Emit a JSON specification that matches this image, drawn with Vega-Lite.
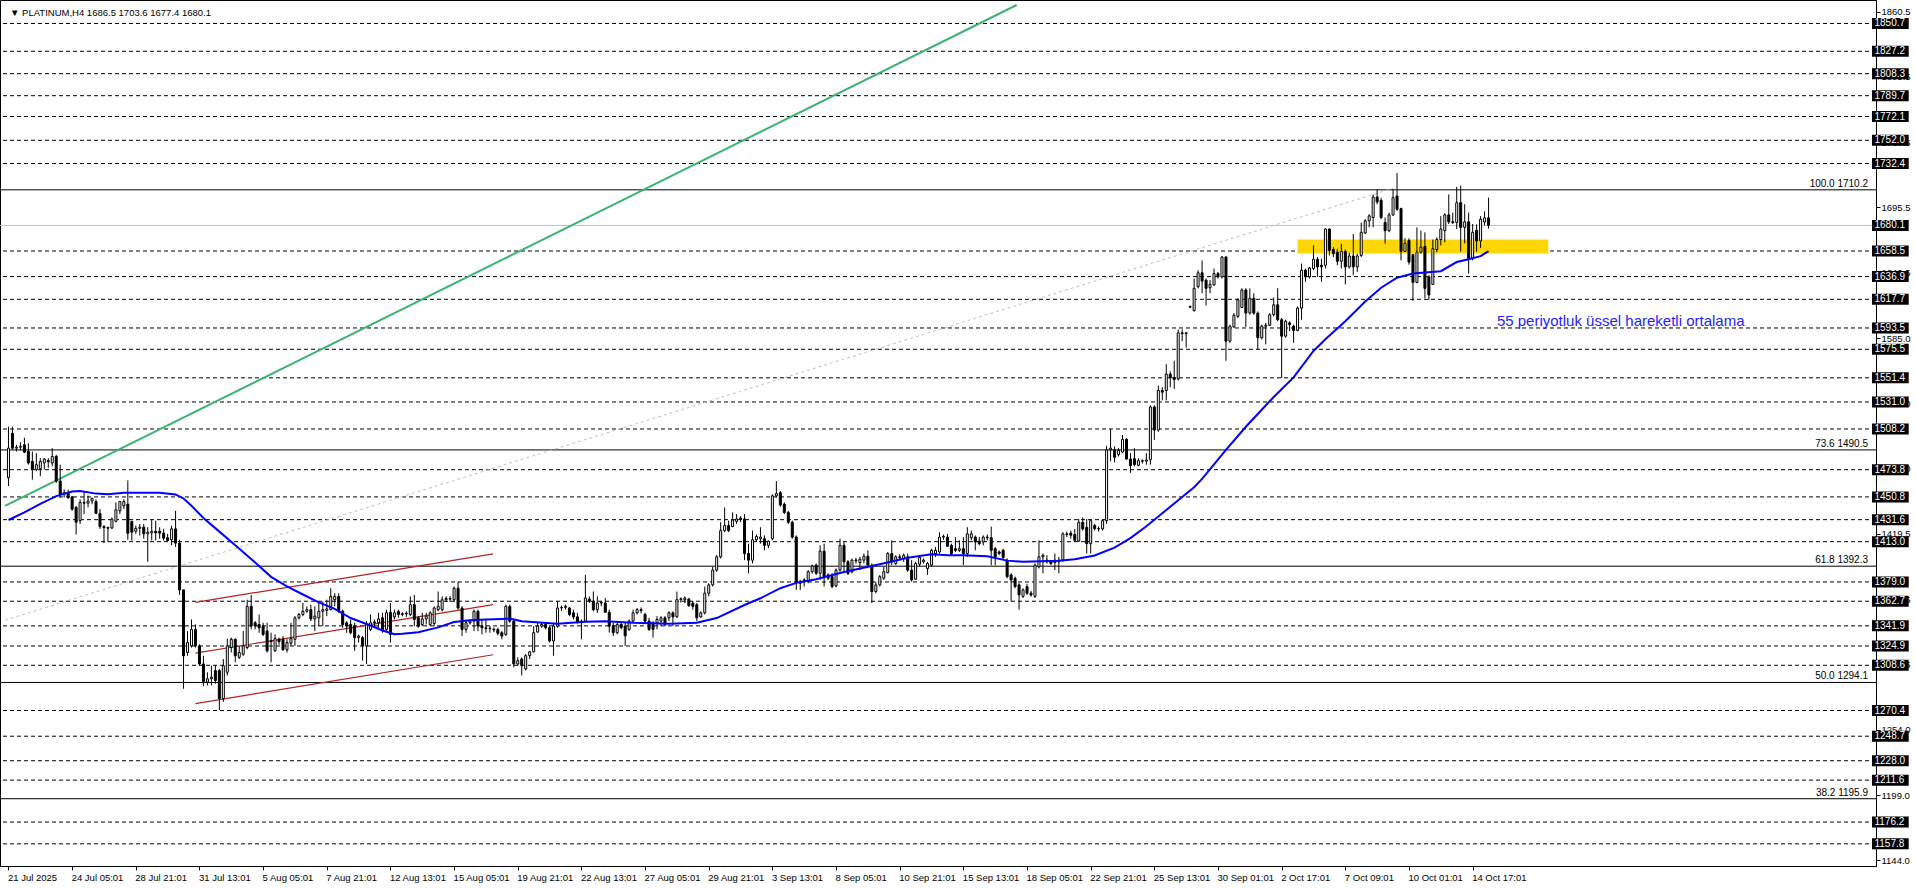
{
"$schema":"https://vega.github.io/schema/vega-lite/v6.json",
"width":1876,"height":866,
"autosize":{"type":"none"},
"padding":{"left":0,"top":0,"right":40,"bottom":22},
"background":"white",
"view":{"stroke":"black","strokeWidth":1},
"datasets":{
"bars":[
{"j":0,"o":1467,"h":1510.1,"l":1460,"c":1492},{"j":1,"o":1504.5,"h":1510.1,"l":1490.6,"c":1492},{"j":2,"o":1492,"h":1494.8,"l":1489.2,"c":1492.8},{"j":3,"o":1492.8,"h":1497,"l":1490,"c":1493.5},{"j":4,"o":1494.8,"h":1500.9,"l":1487.8,"c":1488.6},{"j":5,"o":1489.2,"h":1496.1,"l":1478.1,"c":1479.5},{"j":6,"o":1480.8,"h":1489.2,"l":1465.5,"c":1473.9},{"j":7,"o":1474,"h":1487.8,"l":1472.5,"c":1478},{"j":8,"o":1474.7,"h":1483.6,"l":1468.3,"c":1480.8},{"j":9,"o":1479.5,"h":1483.6,"l":1473.9,"c":1482.8},
{"j":10,"o":1481.5,"h":1483.6,"l":1475.3,"c":1480.5},{"j":11,"o":1479.5,"h":1492,"l":1476.7,"c":1485},{"j":12,"o":1485,"h":1486.4,"l":1462.8,"c":1464.2},{"j":13,"o":1464.2,"h":1478.1,"l":1450.3,"c":1453},{"j":14,"o":1453,"h":1457.2,"l":1450.3,"c":1454.4},{"j":15,"o":1454.4,"h":1457,"l":1449,"c":1450.3},{"j":16,"o":1450.8,"h":1451.6,"l":1439.1,"c":1440.5},{"j":17,"o":1441.9,"h":1443.3,"l":1419.1,"c":1429.4},{"j":18,"o":1430.7,"h":1448.8,"l":1428,"c":1446.1},{"j":19,"o":1446.1,"h":1455.8,"l":1436.3,"c":1445.5},
{"j":20,"o":1445.5,"h":1452,"l":1442,"c":1447.4},{"j":21,"o":1447.4,"h":1450.3,"l":1444.7,"c":1449.5},{"j":22,"o":1446.9,"h":1448.8,"l":1436.3,"c":1436.9},{"j":23,"o":1436.9,"h":1440.5,"l":1423.8,"c":1425.7},{"j":24,"o":1425.7,"h":1427,"l":1411.8,"c":1424.8},{"j":25,"o":1424.3,"h":1425.2,"l":1412.7,"c":1425.2},{"j":26,"o":1424.6,"h":1433.5,"l":1423.8,"c":1432.1},{"j":27,"o":1430.2,"h":1446.1,"l":1429.4,"c":1439.9},{"j":28,"o":1439.1,"h":1447.4,"l":1436.3,"c":1446.9},{"j":29,"o":1443.3,"h":1448.8,"l":1440.5,"c":1446.9},
{"j":30,"o":1444.7,"h":1464.7,"l":1414.6,"c":1420.2},{"j":31,"o":1430,"h":1430.7,"l":1414,"c":1421},{"j":32,"o":1421.8,"h":1426.6,"l":1419.6,"c":1424.3},{"j":33,"o":1424.3,"h":1428,"l":1418.2,"c":1425.2},{"j":34,"o":1425.2,"h":1428,"l":1415.5,"c":1419.6},{"j":35,"o":1419.6,"h":1425.2,"l":1396,"c":1421},{"j":36,"o":1420.5,"h":1431.3,"l":1414,"c":1421.8},{"j":37,"o":1421.8,"h":1430.7,"l":1414,"c":1420.5},{"j":38,"o":1421.8,"h":1425.2,"l":1415.5,"c":1420.2},{"j":39,"o":1420.2,"h":1423.8,"l":1414,"c":1416},
{"j":40,"o":1416.3,"h":1419.6,"l":1413.6,"c":1414},{"j":41,"o":1414.6,"h":1426.6,"l":1409.9,"c":1423.8},{"j":42,"o":1423.8,"h":1439.1,"l":1408.5,"c":1411.8},{"j":43,"o":1411.8,"h":1414.6,"l":1368.1,"c":1372.3},{"j":44,"o":1372.3,"h":1372.3,"l":1288.8,"c":1316.6},{"j":45,"o":1319.4,"h":1337.5,"l":1316.6,"c":1327.8},{"j":46,"o":1325,"h":1347.3,"l":1323.6,"c":1338.9},{"j":47,"o":1338.9,"h":1343.1,"l":1323.6,"c":1325},{"j":48,"o":1325,"h":1326.4,"l":1308.3,"c":1309.7},{"j":49,"o":1309.7,"h":1316.6,"l":1291,"c":1295},
{"j":50,"o":1294.4,"h":1302.7,"l":1291.6,"c":1297.2},{"j":51,"o":1297.2,"h":1308.3,"l":1291.6,"c":1298.6},{"j":52,"o":1304.1,"h":1308.3,"l":1293,"c":1295.8},{"j":53,"o":1304.1,"h":1305.5,"l":1270.7,"c":1280.5},{"j":54,"o":1280.5,"h":1313.9,"l":1277.7,"c":1308.3},{"j":55,"o":1302.7,"h":1331.1,"l":1300,"c":1325},{"j":56,"o":1323.6,"h":1332,"l":1319.4,"c":1330.6},{"j":57,"o":1330.6,"h":1331.1,"l":1311.1,"c":1316.6},{"j":58,"o":1315.3,"h":1325,"l":1313.9,"c":1319.4},{"j":59,"o":1318,"h":1337.5,"l":1316.6,"c":1325},
{"j":60,"o":1323.6,"h":1364,"l":1322.2,"c":1358.4},{"j":61,"o":1358.4,"h":1368.1,"l":1338.9,"c":1341.7},{"j":62,"o":1344.5,"h":1345.9,"l":1338.9,"c":1341.7},{"j":63,"o":1343.1,"h":1351.5,"l":1336.1,"c":1340.3},{"j":64,"o":1341.7,"h":1344.5,"l":1333.3,"c":1334.7},{"j":65,"o":1337.5,"h":1344.5,"l":1319.4,"c":1320.8},{"j":66,"o":1329.2,"h":1336.1,"l":1311.1,"c":1328.5},{"j":67,"o":1320.8,"h":1334.7,"l":1320,"c":1331.1},{"j":68,"o":1330.6,"h":1332,"l":1326,"c":1328.5},{"j":69,"o":1330.6,"h":1333.3,"l":1320.8,"c":1321.7},
{"j":70,"o":1321.7,"h":1330.6,"l":1319.4,"c":1327.8},{"j":71,"o":1327.2,"h":1344.5,"l":1325,"c":1331.1},{"j":72,"o":1330.6,"h":1350.1,"l":1325,"c":1348.7},{"j":73,"o":1348.7,"h":1352.9,"l":1347.3,"c":1351.5},{"j":74,"o":1351.5,"h":1361.2,"l":1350.1,"c":1354.2},{"j":75,"o":1354.2,"h":1358.4,"l":1352.9,"c":1355.6},{"j":76,"o":1355.6,"h":1359.8,"l":1345.9,"c":1347.8},{"j":77,"o":1347.8,"h":1358.4,"l":1337.5,"c":1350.1},{"j":78,"o":1348.7,"h":1361.2,"l":1341.7,"c":1354.2},{"j":79,"o":1354.2,"h":1362.6,"l":1341.7,"c":1355.6},
{"j":80,"o":1355,"h":1364,"l":1350.1,"c":1356.2},{"j":81,"o":1355.6,"h":1373.7,"l":1355,"c":1366.8},{"j":82,"o":1364,"h":1369.5,"l":1358.4,"c":1366.8},{"j":83,"o":1366.8,"h":1369.5,"l":1352.9,"c":1354.2},{"j":84,"o":1354.2,"h":1355.6,"l":1340.3,"c":1343.1},{"j":85,"o":1344.5,"h":1345.9,"l":1336.1,"c":1341.7},{"j":86,"o":1343.1,"h":1347.3,"l":1334.7,"c":1336.1},{"j":87,"o":1341.7,"h":1344.5,"l":1320.8,"c":1332},{"j":88,"o":1332,"h":1334.7,"l":1327.8,"c":1333.3},{"j":89,"o":1332,"h":1333.3,"l":1312.5,"c":1325},
{"j":90,"o":1325,"h":1345.9,"l":1309.7,"c":1343.1},{"j":91,"o":1338.9,"h":1351.5,"l":1337.5,"c":1344.5},{"j":92,"o":1344.5,"h":1347.3,"l":1341.7,"c":1345.2},{"j":93,"o":1344.5,"h":1352.9,"l":1340.3,"c":1347.8},{"j":94,"o":1348.7,"h":1352.9,"l":1336.1,"c":1338.9},{"j":95,"o":1338.9,"h":1355.6,"l":1336.1,"c":1352.9},{"j":96,"o":1353.4,"h":1361.2,"l":1327.8,"c":1334.7},{"j":97,"o":1349.5,"h":1355.6,"l":1347.3,"c":1352.9},{"j":98,"o":1354.2,"h":1355.6,"l":1348.7,"c":1351.5},{"j":99,"o":1351.5,"h":1353.5,"l":1350,"c":1352.2},
{"j":100,"o":1352,"h":1354.2,"l":1349.5,"c":1352.6},{"j":101,"o":1351.5,"h":1366.8,"l":1350.1,"c":1359.8},{"j":102,"o":1359.8,"h":1368.1,"l":1341.7,"c":1347.3},{"j":103,"o":1348.7,"h":1350.1,"l":1340.3,"c":1341.7},{"j":104,"o":1343.1,"h":1352.9,"l":1341.7,"c":1347.8},{"j":105,"o":1347.8,"h":1352.9,"l":1343.1,"c":1350.1},{"j":106,"o":1343.1,"h":1354.2,"l":1341.7,"c":1352.9},{"j":107,"o":1343.9,"h":1358.4,"l":1341.7,"c":1357},{"j":108,"o":1355.6,"h":1370.9,"l":1354.2,"c":1358.4},{"j":109,"o":1355.6,"h":1366.8,"l":1354.2,"c":1364},
{"j":110,"o":1364,"h":1366.8,"l":1362,"c":1365},{"j":111,"o":1365,"h":1367,"l":1362,"c":1364.5},{"j":112,"o":1364,"h":1375.1,"l":1362.6,"c":1373.7},{"j":113,"o":1373.7,"h":1379.3,"l":1355.6,"c":1357},{"j":114,"o":1357,"h":1358.4,"l":1333.3,"c":1338.9},{"j":115,"o":1338.9,"h":1347.3,"l":1336.1,"c":1344.5},{"j":116,"o":1344.5,"h":1347.3,"l":1343,"c":1345.9},{"j":117,"o":1345.9,"h":1355.6,"l":1337.5,"c":1354.2},{"j":118,"o":1354.2,"h":1355.6,"l":1337.5,"c":1341.7},{"j":119,"o":1341.7,"h":1347.3,"l":1334.7,"c":1340.3},
{"j":120,"o":1340.3,"h":1347.3,"l":1336.1,"c":1339.6},{"j":121,"o":1339.6,"h":1341.7,"l":1336.1,"c":1339.9},{"j":122,"o":1339,"h":1340.5,"l":1336.5,"c":1338.4},{"j":123,"o":1338.9,"h":1340.3,"l":1333.9,"c":1335.6},{"j":124,"o":1336.1,"h":1337.5,"l":1330.6,"c":1333.3},{"j":125,"o":1334.7,"h":1359.8,"l":1333.3,"c":1358.4},{"j":126,"o":1358.4,"h":1359.8,"l":1344.5,"c":1345.9},{"j":127,"o":1345.9,"h":1347.3,"l":1306.9,"c":1309.7},{"j":128,"o":1309.7,"h":1315.3,"l":1308.3,"c":1312.5},{"j":129,"o":1313.9,"h":1315.3,"l":1300,"c":1308.3},
{"j":130,"o":1305.5,"h":1318.1,"l":1304.2,"c":1316.7},{"j":131,"o":1316.7,"h":1320.8,"l":1313.9,"c":1320},{"j":132,"o":1320,"h":1341.7,"l":1319.5,"c":1336.2},{"j":133,"o":1336.7,"h":1344.5,"l":1336.2,"c":1341.7},{"j":134,"o":1341.7,"h":1344.5,"l":1340.3,"c":1343.1},{"j":135,"o":1343.1,"h":1344.5,"l":1338.9,"c":1340.3},{"j":136,"o":1340.3,"h":1341.7,"l":1327.8,"c":1329.2},{"j":137,"o":1329.2,"h":1344.5,"l":1316.7,"c":1341.7},{"j":138,"o":1341.7,"h":1362.6,"l":1340.3,"c":1357},{"j":139,"o":1357,"h":1359,"l":1354.5,"c":1357.5},
{"j":140,"o":1357.5,"h":1359.8,"l":1355.6,"c":1358.4},{"j":141,"o":1357,"h":1357.9,"l":1350.1,"c":1351.5},{"j":142,"o":1352.9,"h":1355.6,"l":1347.3,"c":1349.5},{"j":143,"o":1349.5,"h":1352.9,"l":1343.9,"c":1345.1},{"j":144,"o":1345.9,"h":1347.3,"l":1330.6,"c":1345.1},{"j":145,"o":1345.9,"h":1384.9,"l":1345.1,"c":1365.4},{"j":146,"o":1364.5,"h":1366.8,"l":1361.2,"c":1362.6},{"j":147,"o":1362.6,"h":1370.9,"l":1354.2,"c":1355.6},{"j":148,"o":1355.6,"h":1366.8,"l":1352.9,"c":1361.2},{"j":149,"o":1361.2,"h":1363,"l":1358.5,"c":1361.8},
{"j":150,"o":1361.2,"h":1365.4,"l":1352.9,"c":1353.4},{"j":151,"o":1353.4,"h":1355.6,"l":1336.2,"c":1341.7},{"j":152,"o":1341.7,"h":1344.5,"l":1333.4,"c":1336.2},{"j":153,"o":1336.2,"h":1344.5,"l":1334.8,"c":1343.1},{"j":154,"o":1343.1,"h":1344.5,"l":1338.9,"c":1340.3},{"j":155,"o":1341.7,"h":1344.5,"l":1325,"c":1333.4},{"j":156,"o":1338.9,"h":1347.3,"l":1337.6,"c":1345.9},{"j":157,"o":1345.9,"h":1355.6,"l":1344.5,"c":1352.9},{"j":158,"o":1352.9,"h":1357,"l":1351.5,"c":1355.6},{"j":159,"o":1355.6,"h":1357.5,"l":1352.5,"c":1354.8},
{"j":160,"o":1351.5,"h":1352.9,"l":1344.5,"c":1345.9},{"j":161,"o":1345.9,"h":1348.7,"l":1337.6,"c":1338.9},{"j":162,"o":1344.5,"h":1345.9,"l":1332,"c":1338.9},{"j":163,"o":1344.5,"h":1350.1,"l":1338.9,"c":1347.3},{"j":164,"o":1345.9,"h":1350.1,"l":1341.7,"c":1348.7},{"j":165,"o":1348.7,"h":1350.1,"l":1341.7,"c":1343.1},{"j":166,"o":1348.7,"h":1354.2,"l":1345.9,"c":1352.9},{"j":167,"o":1352.9,"h":1354.2,"l":1341.7,"c":1349.5},{"j":168,"o":1349.5,"h":1370.9,"l":1348.7,"c":1364},{"j":169,"o":1364,"h":1366,"l":1361.5,"c":1364.8},
{"j":170,"o":1364,"h":1366.8,"l":1361.2,"c":1365.4},{"j":171,"o":1364.5,"h":1365.4,"l":1357.9,"c":1359},{"j":172,"o":1361.2,"h":1362.6,"l":1355.6,"c":1358.4},{"j":173,"o":1359.8,"h":1361.2,"l":1345.9,"c":1348.7},{"j":174,"o":1349.5,"h":1354.2,"l":1348.7,"c":1352.9},{"j":175,"o":1352.9,"h":1375.1,"l":1351.5,"c":1369.5},{"j":176,"o":1369.5,"h":1377.9,"l":1366.8,"c":1376.5},{"j":177,"o":1376.5,"h":1391.8,"l":1375.1,"c":1389},{"j":178,"o":1389,"h":1401.6,"l":1387.6,"c":1400.2},{"j":179,"o":1400.2,"h":1429.4,"l":1398.8,"c":1422.4},
{"j":180,"o":1422.4,"h":1441.9,"l":1421,"c":1426.6},{"j":181,"o":1426.6,"h":1430.8,"l":1421,"c":1422.4},{"j":182,"o":1425.8,"h":1437.7,"l":1425.2,"c":1431.3},{"j":183,"o":1430.2,"h":1436.3,"l":1428,"c":1432.2},{"j":184,"o":1432.2,"h":1434.5,"l":1429.5,"c":1433},{"j":185,"o":1432.2,"h":1436.3,"l":1397.4,"c":1403},{"j":186,"o":1403,"h":1411.3,"l":1386.3,"c":1397.4},{"j":187,"o":1397.4,"h":1422.4,"l":1394.6,"c":1414.6},{"j":188,"o":1414.6,"h":1419.1,"l":1412.7,"c":1417.4},{"j":189,"o":1415.5,"h":1425.2,"l":1411.3,"c":1416.9},
{"j":190,"o":1415.5,"h":1418.3,"l":1405.7,"c":1409.9},{"j":191,"o":1409.9,"h":1414,"l":1407.5,"c":1413.5},{"j":192,"o":1415.5,"h":1453,"l":1414.1,"c":1451.7},{"j":193,"o":1451.7,"h":1464.2,"l":1450.3,"c":1453.6},{"j":194,"o":1454.4,"h":1455.8,"l":1442.5,"c":1444.1},{"j":195,"o":1444.7,"h":1446.1,"l":1436.3,"c":1437.7},{"j":196,"o":1437.7,"h":1439.1,"l":1428,"c":1429.4},{"j":197,"o":1429.4,"h":1430.8,"l":1415.5,"c":1416.9},{"j":198,"o":1416.9,"h":1418.3,"l":1372.3,"c":1378.5},{"j":199,"o":1379.3,"h":1380.7,"l":1372.3,"c":1377.9},
{"j":200,"o":1380.7,"h":1382.1,"l":1375.1,"c":1379.3},{"j":201,"o":1379.3,"h":1389,"l":1377.9,"c":1387.6},{"j":202,"o":1387.6,"h":1393.5,"l":1386,"c":1392.5},{"j":203,"o":1393.2,"h":1394.6,"l":1384.9,"c":1386.3},{"j":204,"o":1386.3,"h":1409.9,"l":1380.7,"c":1405},{"j":205,"o":1405,"h":1411.3,"l":1375.1,"c":1383.5},{"j":206,"o":1384.9,"h":1386.3,"l":1380.7,"c":1382.1},{"j":207,"o":1383.5,"h":1386.3,"l":1373.7,"c":1375.1},{"j":208,"o":1375.5,"h":1390.4,"l":1374.5,"c":1389},{"j":209,"o":1389,"h":1415.5,"l":1387.6,"c":1409.9},
{"j":210,"o":1409.9,"h":1412.7,"l":1387.6,"c":1396},{"j":211,"o":1396,"h":1397.4,"l":1384.9,"c":1386.3},{"j":212,"o":1387.6,"h":1398.8,"l":1386.3,"c":1397.4},{"j":213,"o":1397.4,"h":1399.5,"l":1394.5,"c":1396.8},{"j":214,"o":1395.4,"h":1400.2,"l":1389,"c":1398.2},{"j":215,"o":1397.4,"h":1403,"l":1394.6,"c":1400.7},{"j":216,"o":1400.7,"h":1405.7,"l":1391.8,"c":1393.2},{"j":217,"o":1393.2,"h":1394.6,"l":1361.2,"c":1370.9},{"j":218,"o":1370.9,"h":1379.3,"l":1369.5,"c":1376.5},{"j":219,"o":1376.5,"h":1384.9,"l":1375.1,"c":1383.5},
{"j":220,"o":1382.1,"h":1391.8,"l":1380.7,"c":1387.6},{"j":221,"o":1386.8,"h":1404.3,"l":1386.3,"c":1403},{"j":222,"o":1403,"h":1414.1,"l":1393.2,"c":1396},{"j":223,"o":1394.6,"h":1401.6,"l":1393.2,"c":1400.2},{"j":224,"o":1400.2,"h":1402.5,"l":1397.5,"c":1399.5},{"j":225,"o":1398.8,"h":1403,"l":1396,"c":1401.6},{"j":226,"o":1400.2,"h":1403,"l":1387.6,"c":1389},{"j":227,"o":1389,"h":1397.4,"l":1379.3,"c":1380.7},{"j":228,"o":1381.3,"h":1396,"l":1380.7,"c":1394.6},{"j":229,"o":1394,"h":1401.6,"l":1392,"c":1399.6},
{"j":230,"o":1396,"h":1398.8,"l":1394.6,"c":1397.4},{"j":231,"o":1390.4,"h":1396,"l":1384.9,"c":1394.6},{"j":232,"o":1393.2,"h":1407.1,"l":1391.8,"c":1405.7},{"j":233,"o":1403,"h":1408.5,"l":1400.2,"c":1405.7},{"j":234,"o":1404.3,"h":1421,"l":1403,"c":1416.9},{"j":235,"o":1416.9,"h":1419,"l":1414.5,"c":1417.5},{"j":236,"o":1416.9,"h":1419.6,"l":1408.5,"c":1409.1},{"j":237,"o":1409.9,"h":1411.3,"l":1401.6,"c":1403},{"j":238,"o":1407.1,"h":1416.9,"l":1404.3,"c":1405.7},{"j":239,"o":1405.7,"h":1414.1,"l":1404.3,"c":1407.1},
{"j":240,"o":1407.1,"h":1416.9,"l":1393.2,"c":1403},{"j":241,"o":1403,"h":1425.2,"l":1400.2,"c":1419.6},{"j":242,"o":1416.3,"h":1422.4,"l":1414.1,"c":1419.6},{"j":243,"o":1416.9,"h":1418.3,"l":1405.7,"c":1412.7},{"j":244,"o":1413.5,"h":1416.9,"l":1409.9,"c":1411.3},{"j":245,"o":1412.7,"h":1418.3,"l":1409.9,"c":1416.9},{"j":246,"o":1416.9,"h":1419,"l":1414,"c":1416.3},{"j":247,"o":1416.3,"h":1425.8,"l":1393.2,"c":1405.7},{"j":248,"o":1407.1,"h":1408.5,"l":1393.2,"c":1400.2},{"j":249,"o":1404.3,"h":1405.7,"l":1401.6,"c":1403},
{"j":250,"o":1405.7,"h":1407.1,"l":1397.4,"c":1399.6},{"j":251,"o":1397.4,"h":1398.8,"l":1382.1,"c":1383.5},{"j":252,"o":1384.9,"h":1386.3,"l":1362.6,"c":1380.7},{"j":253,"o":1382.1,"h":1383.5,"l":1373.7,"c":1375.1},{"j":254,"o":1376.5,"h":1377.9,"l":1355.6,"c":1368.1},{"j":255,"o":1366.8,"h":1373.7,"l":1365.4,"c":1372.3},{"j":256,"o":1375,"h":1377.5,"l":1368.1,"c":1369.5},{"j":257,"o":1369.5,"h":1371.5,"l":1366.5,"c":1368},{"j":258,"o":1366.8,"h":1394.6,"l":1365.4,"c":1393.2},{"j":259,"o":1391.8,"h":1414.1,"l":1390.4,"c":1400.2},
{"j":260,"o":1400.2,"h":1403,"l":1386.3,"c":1401.6},{"j":261,"o":1397.4,"h":1401.6,"l":1394.6,"c":1396},{"j":262,"o":1396,"h":1397.4,"l":1393.2,"c":1394.6},{"j":263,"o":1395.4,"h":1403,"l":1389,"c":1397.4},{"j":264,"o":1397.4,"h":1400.2,"l":1386.3,"c":1396},{"j":265,"o":1397.4,"h":1421,"l":1396,"c":1419.6},{"j":266,"o":1419.6,"h":1421.5,"l":1417,"c":1419},{"j":267,"o":1420.2,"h":1422.4,"l":1415.5,"c":1418.5},{"j":268,"o":1419.1,"h":1423.8,"l":1412.7,"c":1414.1},{"j":269,"o":1413.5,"h":1432.2,"l":1412.7,"c":1429.4},
{"j":270,"o":1429.4,"h":1433.6,"l":1422.4,"c":1423.8},{"j":271,"o":1425.2,"h":1432.2,"l":1403,"c":1411.3},{"j":272,"o":1411.3,"h":1432.2,"l":1403,"c":1430.8},{"j":273,"o":1426.6,"h":1428,"l":1422.4,"c":1424},{"j":274,"o":1424,"h":1426,"l":1421.5,"c":1423.8},{"j":275,"o":1423.8,"h":1432.2,"l":1422.4,"c":1430.8},{"j":276,"o":1430.8,"h":1494,"l":1428,"c":1490.5},{"j":277,"o":1490.6,"h":1507.9,"l":1480.9,"c":1492},{"j":278,"o":1490.6,"h":1493.4,"l":1480,"c":1484.2},{"j":279,"o":1486.5,"h":1492,"l":1485,"c":1490.1},
{"j":280,"o":1488.7,"h":1503.1,"l":1487.8,"c":1499.5},{"j":281,"o":1499.5,"h":1500.4,"l":1482.3,"c":1482.8},{"j":282,"o":1482.8,"h":1487.8,"l":1471.1,"c":1477.2},{"j":283,"o":1483.1,"h":1492,"l":1476.7,"c":1478.1},{"j":284,"o":1477.5,"h":1483.6,"l":1476.7,"c":1481.4},{"j":285,"o":1481.4,"h":1482.5,"l":1479,"c":1481},{"j":286,"o":1481,"h":1487.8,"l":1478.1,"c":1482},{"j":287,"o":1482.3,"h":1528.2,"l":1478.1,"c":1526.8},{"j":288,"o":1526.8,"h":1528.2,"l":1499,"c":1507.3},{"j":289,"o":1507.3,"h":1544.9,"l":1505.9,"c":1540.7},
{"j":290,"o":1540.7,"h":1543.5,"l":1532.4,"c":1539.3},{"j":291,"o":1540.7,"h":1563,"l":1532.4,"c":1554.6},{"j":292,"o":1554.6,"h":1556.9,"l":1543.5,"c":1551.3},{"j":293,"o":1551.3,"h":1565.8,"l":1542.1,"c":1550},{"j":294,"o":1550.5,"h":1592.2,"l":1549.1,"c":1589.4},{"j":295,"o":1589.4,"h":1592.2,"l":1582.4,"c":1588.7},{"j":296,"o":1588.7,"h":1590,"l":1576.9,"c":1589.4},{"j":297,"o":1611.5,"h":1612.6,"l":1610.3,"c":1611.1},{"j":298,"o":1608.1,"h":1635.3,"l":1607.5,"c":1627},{"j":299,"o":1628.4,"h":1642.3,"l":1627,"c":1640.1},
{"j":300,"o":1640.1,"h":1650.6,"l":1622.8,"c":1633.1},{"j":301,"o":1633.9,"h":1635.3,"l":1612.5,"c":1627},{"j":302,"o":1627.5,"h":1633.9,"l":1622.8,"c":1630.3},{"j":303,"o":1629.8,"h":1643.7,"l":1629.2,"c":1639.5},{"j":304,"o":1639.5,"h":1640.9,"l":1635.3,"c":1636.7},{"j":305,"o":1636.7,"h":1654.3,"l":1635.3,"c":1653.4},{"j":306,"o":1653.4,"h":1654.3,"l":1565.8,"c":1582.4},{"j":307,"o":1582.4,"h":1596.4,"l":1581,"c":1594.9},{"j":308,"o":1594.4,"h":1606.1,"l":1593.6,"c":1604.2},{"j":309,"o":1603.3,"h":1618.6,"l":1601.9,"c":1617.2},
{"j":310,"o":1610.8,"h":1627,"l":1610.3,"c":1625.6},{"j":311,"o":1625.6,"h":1627,"l":1594.4,"c":1606.1},{"j":312,"o":1606.1,"h":1627,"l":1604.7,"c":1618.6},{"j":313,"o":1618.6,"h":1622.8,"l":1604.7,"c":1606.1},{"j":314,"o":1606.1,"h":1607.5,"l":1575.5,"c":1585.2},{"j":315,"o":1585.2,"h":1596.4,"l":1583.8,"c":1595},{"j":316,"o":1595,"h":1597.8,"l":1579.7,"c":1595.8},{"j":317,"o":1595.8,"h":1606.1,"l":1595,"c":1604.7},{"j":318,"o":1604.7,"h":1619.2,"l":1603.3,"c":1613.1},{"j":319,"o":1613.1,"h":1627,"l":1599.2,"c":1600.5},
{"j":320,"o":1600.5,"h":1601.9,"l":1551.3,"c":1586.6},{"j":321,"o":1586.6,"h":1600.5,"l":1585.2,"c":1599.2},{"j":322,"o":1597.8,"h":1599.2,"l":1590.8,"c":1596.4},{"j":323,"o":1595,"h":1596.4,"l":1581,"c":1591.4},{"j":324,"o":1591.4,"h":1611.7,"l":1590.8,"c":1610.3},{"j":325,"o":1610.3,"h":1647.9,"l":1600.5,"c":1642.3},{"j":326,"o":1642.3,"h":1643.7,"l":1632.5,"c":1636.7},{"j":327,"o":1636.7,"h":1645.1,"l":1635.3,"c":1644.2},{"j":328,"o":1643.7,"h":1663.2,"l":1642.3,"c":1651.5},{"j":329,"o":1651.5,"h":1653.4,"l":1636.7,"c":1645.1},
{"j":330,"o":1646.5,"h":1652,"l":1632.5,"c":1645.1},{"j":331,"o":1646.5,"h":1677.6,"l":1643.7,"c":1677.1},{"j":332,"o":1677.1,"h":1677.6,"l":1654.8,"c":1659},{"j":333,"o":1659.8,"h":1661.8,"l":1653.4,"c":1656.2},{"j":334,"o":1657.6,"h":1660.4,"l":1646.5,"c":1649.8},{"j":335,"o":1649.8,"h":1664.6,"l":1643.7,"c":1658.2},{"j":336,"o":1658.2,"h":1659.8,"l":1630.3,"c":1645.1},{"j":337,"o":1645.1,"h":1657.1,"l":1643.7,"c":1654.3},{"j":338,"o":1654.3,"h":1672.9,"l":1638.1,"c":1645.1},{"j":339,"o":1645.1,"h":1656.2,"l":1640.9,"c":1654.3},
{"j":340,"o":1654.8,"h":1682.6,"l":1653.4,"c":1674.3},{"j":341,"o":1673.7,"h":1685.4,"l":1672.9,"c":1684},{"j":342,"o":1684,"h":1689.6,"l":1678.5,"c":1688.2},{"j":343,"o":1686.8,"h":1706.3,"l":1678.5,"c":1704.1},{"j":344,"o":1704.1,"h":1710.5,"l":1698,"c":1699.9},{"j":345,"o":1701.3,"h":1703.5,"l":1685.4,"c":1686.8},{"j":346,"o":1682.6,"h":1686.8,"l":1664.6,"c":1675.7},{"j":347,"o":1675.7,"h":1691,"l":1674.3,"c":1689},{"j":348,"o":1689,"h":1710.5,"l":1688.2,"c":1703.5},{"j":349,"o":1704.9,"h":1724.4,"l":1692.5,"c":1693.8},
{"j":350,"o":1694.3,"h":1695.1,"l":1650.6,"c":1658.2},{"j":351,"o":1658.2,"h":1669.3,"l":1657.6,"c":1665.1},{"j":352,"o":1667.3,"h":1669.3,"l":1647,"c":1649.2},{"j":353,"o":1655.4,"h":1656.2,"l":1616.4,"c":1632},{"j":354,"o":1632,"h":1678.5,"l":1631.2,"c":1657.6},{"j":355,"o":1657.6,"h":1675.7,"l":1656.2,"c":1661.8},{"j":356,"o":1662.3,"h":1674.3,"l":1618.6,"c":1627},{"j":357,"o":1636.7,"h":1638.1,"l":1617.2,"c":1621.4},{"j":358,"o":1630.3,"h":1668.2,"l":1629.8,"c":1660.4},{"j":359,"o":1659.8,"h":1670.1,"l":1657.6,"c":1668.2},
{"j":360,"o":1668.2,"h":1688,"l":1663.2,"c":1677.1},{"j":361,"o":1675.7,"h":1690.4,"l":1665.9,"c":1689},{"j":362,"o":1689,"h":1706.3,"l":1681.3,"c":1683.2},{"j":363,"o":1683.2,"h":1691,"l":1681.3,"c":1682.6},{"j":364,"o":1682.6,"h":1712.7,"l":1677.1,"c":1699.3},{"j":365,"o":1699.3,"h":1713.8,"l":1658,"c":1678.5},{"j":366,"o":1678.5,"h":1698,"l":1665,"c":1683.2},{"j":367,"o":1683.2,"h":1691,"l":1639.5,"c":1652},{"j":368,"o":1652,"h":1681.3,"l":1650.6,"c":1674.3},{"j":369,"o":1676,"h":1681,"l":1658,"c":1667},
{"j":370,"o":1667,"h":1688,"l":1661,"c":1685.4},{"j":371,"o":1683,"h":1692,"l":1680,"c":1686.5},{"j":372,"o":1686.5,"h":1703.6,"l":1677.4,"c":1680.1}
],
"ema":[
{"j":0,"p":1431.3},{"j":4,"p":1437.7},{"j":8,"p":1445},{"j":12,"p":1451.5},{"j":16,"p":1455.3},{"j":18,"p":1455.8},{"j":22,"p":1453.6},{"j":25,"p":1453},{"j":29,"p":1454.4},{"j":38,"p":1454.4},{"j":42,"p":1452.8},{"j":44,"p":1449.5},{"j":46,"p":1443.3},{"j":49,"p":1433},{"j":53,"p":1421.5},{"j":57,"p":1410},{"j":62,"p":1395.5},{"j":66,"p":1383.3},{"j":70,"p":1375.3},{"j":74,"p":1368.4},{"j":78,"p":1361.8},{"j":82,"p":1356.2},{"j":86,"p":1348.5},{"j":91,"p":1342.2},{"j":94,"p":1338},{"j":97,"p":1334.9},{"j":99,"p":1335.2},{"j":103,"p":1336.6},{"j":108,"p":1340.6},{"j":112,"p":1345.2},{"j":116,"p":1346.7},{"j":120,"p":1347.3},{"j":124,"p":1347.8},{"j":126,"p":1348.1},{"j":129,"p":1345.8},{"j":138,"p":1343.7},{"j":145,"p":1345.3},{"j":150,"p":1345.9},{"j":157,"p":1344.5},{"j":166,"p":1343.7},{"j":173,"p":1344.5},{"j":178,"p":1348.5},{"j":185,"p":1359.5},{"j":189,"p":1365.2},{"j":194,"p":1373.7},{"j":198,"p":1378.2},{"j":203,"p":1381.3},{"j":209,"p":1386.5},{"j":212,"p":1388.8},{"j":217,"p":1392.4},{"j":222,"p":1396.2},{"j":226,"p":1399.5},{"j":232,"p":1402.4},{"j":236,"p":1401.6},{"j":240,"p":1401.6},{"j":246,"p":1400.6},{"j":251,"p":1397},{"j":255,"p":1396},{"j":264,"p":1396.8},{"j":268,"p":1398.2},{"j":273,"p":1401.4},{"j":278,"p":1408},{"j":282,"p":1416},{"j":286,"p":1426},{"j":290,"p":1437},{"j":294,"p":1448},{"j":298,"p":1459},{"j":300,"p":1466},{"j":306,"p":1490.6},{"j":311,"p":1510.1},{"j":318,"p":1535.2},{"j":323,"p":1551.8},{"j":328,"p":1574.1},{"j":331,"p":1583.9},{"j":336,"p":1599.2},{"j":341,"p":1615.9},{"j":345,"p":1627.5},{"j":349,"p":1636},{"j":353,"p":1639.5},{"j":356,"p":1640.3},{"j":360,"p":1641.5},{"j":364,"p":1649.2},{"j":367,"p":1651.5},{"j":370,"p":1654.2},{"j":372,"p":1658.4}
],
"hl":[{"p":1850.7},{"p":1827.2},{"p":1808.3},{"p":1789.7},{"p":1772.1},{"p":1752.0},{"p":1732.4},{"p":1658.5},{"p":1636.9},{"p":1617.7},{"p":1593.5},{"p":1575.5},{"p":1551.4},{"p":1531.0},{"p":1508.2},{"p":1473.8},{"p":1450.8},{"p":1431.6},{"p":1413.0},{"p":1379.0},{"p":1362.7},{"p":1341.9},{"p":1324.9},{"p":1308.6},{"p":1270.4},{"p":1248.7},{"p":1228.0},{"p":1211.6},{"p":1176.2},{"p":1157.8}],
"boxes":[{"p":1850.7},{"p":1827.2},{"p":1808.3},{"p":1789.7},{"p":1772.1},{"p":1752.0},{"p":1732.4},{"p":1680.1},{"p":1658.5},{"p":1636.9},{"p":1617.7},{"p":1593.5},{"p":1575.5},{"p":1551.4},{"p":1531.0},{"p":1508.2},{"p":1473.8},{"p":1450.8},{"p":1431.6},{"p":1413.0},{"p":1379.0},{"p":1362.7},{"p":1341.9},{"p":1324.9},{"p":1308.6},{"p":1270.4},{"p":1248.7},{"p":1228.0},{"p":1211.6},{"p":1176.2},{"p":1157.8}],
"fib":[{"p":1710.2,"t":"100.0 1710.2"},{"p":1490.5,"t":"73.6 1490.5"},{"p":1392.3,"t":"61.8 1392.3"},{"p":1294.1,"t":"50.0 1294.1"},{"p":1195.9,"t":"38.2 1195.9"}],
"bid":[{"p":1680.1}],
"zone":[{"j":324,"j2":387,"p":1656.5,"p2":1668.3}],
"fibtrend":[{"j":-0.875,"p":1346.7},{"j":348,"p":1711.5}],
"green":[{"j":-0.875,"p":1443.3},{"j":253.4,"p":1866.3}],
"red":[{"id":"a","j":47,"p":1361.8},{"id":"a","j":121.8,"p":1402.7},{"id":"b","j":47,"p":1318.9},{"id":"b","j":121.8,"p":1359.8},{"id":"c","j":47,"p":1276.3},{"id":"c","j":121.8,"p":1317.5}],
"note":[{"t":"55 periyotluk üssel hareketli ortalama"}],
"header":[{"t":"▼ PLATINUM,H4  1686.5 1703.6 1677.4 1680.1"}]
},
"layer":[
{"data":{"name":"hl"},"mark":{"type":"rule","color":"black","strokeWidth":1,"strokeDash":[4,3]},
 "encoding":{"y":{"field":"p","type":"quantitative","title":null,"scale":{"domain":[1143.3,1866.3],"nice":false,"zero":false},
  "axis":{"orient":"right","values":[1860.5,1833.0,1805.5,1778.0,1750.5,1723.0,1695.5,1668.0,1640.5,1612.5,1585.0,1557.5,1530.0,1502.5,1475.0,1447.0,1419.5,1392.0,1364.5,1337.0,1309.5,1282.0,1254.0,1226.5,1199.0,1171.5,1144.0],
   "format":".1f","title":null,"grid":false,"ticks":true,"labels":true,"domain":true,"tickSize":4,"tickColor":"black","domainColor":"black","labelColor":"black","labelFont":"Liberation Sans","labelFontSize":9.5,"labelPadding":1,"labelOverlap":false,"labelFlush":false,"labelBound":false}}}},
{"data":{"name":"fib"},"mark":{"type":"rule","color":"black","strokeWidth":1},
 "encoding":{"y":{"field":"p","type":"quantitative","title":null,"scale":{"domain":[1143.3,1866.3],"nice":false,"zero":false}}}},
{"data":{"name":"bid"},"mark":{"type":"rule","color":"#C0C0C0","strokeWidth":1},
 "encoding":{"y":{"field":"p","type":"quantitative","title":null,"scale":{"domain":[1143.3,1866.3],"nice":false,"zero":false}}}},
{"data":{"name":"zone"},"mark":{"type":"rect","color":"#FFD700"},
 "encoding":{"x":{"field":"j","type":"quantitative","title":null,"scale":{"domain":[-0.875,468.125],"nice":false,"zero":false}},"x2":{"field":"j2"},
  "y":{"field":"p","type":"quantitative","title":null,"scale":{"domain":[1143.3,1866.3],"nice":false,"zero":false}},"y2":{"field":"p2"}}},
{"data":{"name":"fibtrend"},"mark":{"type":"line","color":"#C0C0C0","strokeWidth":1,"strokeDash":[3,3]},
 "encoding":{"x":{"field":"j","type":"quantitative","title":null,"scale":{"domain":[-0.875,468.125],"nice":false,"zero":false}},
  "y":{"field":"p","type":"quantitative","title":null,"scale":{"domain":[1143.3,1866.3],"nice":false,"zero":false}}}},
{"data":{"name":"green"},"mark":{"type":"line","color":"#3CB371","strokeWidth":2,"clip":true},
 "encoding":{"x":{"field":"j","type":"quantitative","title":null,"scale":{"domain":[-0.875,468.125],"nice":false,"zero":false}},
  "y":{"field":"p","type":"quantitative","title":null,"scale":{"domain":[1143.3,1866.3],"nice":false,"zero":false}}}},
{"data":{"name":"red"},"mark":{"type":"line","color":"#B22222","strokeWidth":1.2},
 "encoding":{"x":{"field":"j","type":"quantitative","title":null,"scale":{"domain":[-0.875,468.125],"nice":false,"zero":false}},
  "y":{"field":"p","type":"quantitative","title":null,"scale":{"domain":[1143.3,1866.3],"nice":false,"zero":false}},"detail":{"field":"id"}}},
{"data":{"name":"bars"},"mark":{"type":"rule","color":"black","strokeWidth":1},
 "encoding":{"x":{"field":"j","type":"quantitative","title":null,"scale":{"domain":[-0.875,468.125],"nice":false,"zero":false},
   "axis":{"values":[0,16,32,48,64,80,96,112,128,144,160,176,192,208,224,240,256,272,288,304,320,336,352,368],
    "labelExpr":"['21 Jul 2025','24 Jul 05:01','28 Jul 21:01','31 Jul 13:01','5 Aug 05:01','7 Aug 21:01','12 Aug 13:01','15 Aug 05:01','19 Aug 21:01','22 Aug 13:01','27 Aug 05:01','29 Aug 21:01','3 Sep 13:01','8 Sep 05:01','10 Sep 21:01','15 Sep 13:01','18 Sep 05:01','22 Sep 21:01','25 Sep 13:01','30 Sep 01:01','2 Oct 17:01','7 Oct 09:01','10 Oct 01:01','14 Oct 17:01'][round(datum.value/16)]",
    "title":null,"grid":false,"ticks":true,"labels":true,"domain":true,"tickSize":4,"tickColor":"black","domainColor":"black","labelColor":"black","labelFont":"Liberation Sans","labelFontSize":9.5,"labelAlign":"left","labelOffset":-1,"labelPadding":2,"labelOverlap":false,"labelFlush":false,"labelBound":false}},
  "y":{"field":"l","type":"quantitative","title":null,"scale":{"domain":[1143.3,1866.3],"nice":false,"zero":false}},"y2":{"field":"h"}}},
{"data":{"name":"bars"},"mark":{"type":"bar","size":2,"stroke":"black","strokeWidth":1},
 "encoding":{"x":{"field":"j","type":"quantitative","title":null,"scale":{"domain":[-0.875,468.125],"nice":false,"zero":false}},
  "y":{"field":"o","type":"quantitative","title":null,"scale":{"domain":[1143.3,1866.3],"nice":false,"zero":false}},"y2":{"field":"c"},
  "fill":{"condition":{"test":"datum.c >= datum.o","value":"white"},"value":"black"}}},
{"data":{"name":"ema"},"mark":{"type":"line","color":"#0000FF","strokeWidth":2},
 "encoding":{"x":{"field":"j","type":"quantitative","title":null,"scale":{"domain":[-0.875,468.125],"nice":false,"zero":false}},
  "y":{"field":"p","type":"quantitative","title":null,"scale":{"domain":[1143.3,1866.3],"nice":false,"zero":false}}}},
{"data":{"name":"fib"},"mark":{"type":"text","align":"right","baseline":"bottom","dy":-1,"font":"Liberation Sans","fontSize":10,"color":"black"},
 "encoding":{"x":{"datum":467.375,"type":"quantitative","title":null,"scale":{"domain":[-0.875,468.125],"nice":false,"zero":false}},
  "y":{"field":"p","type":"quantitative","title":null,"scale":{"domain":[1143.3,1866.3],"nice":false,"zero":false}},"text":{"field":"t"}}},
{"data":{"name":"note"},"mark":{"type":"text","align":"left","baseline":"middle","font":"Liberation Sans","fontSize":15,"color":"#1E1EFF"},
 "encoding":{"x":{"datum":374.1,"type":"quantitative","title":null,"scale":{"domain":[-0.875,468.125],"nice":false,"zero":false}},
  "y":{"datum":1599.2,"type":"quantitative","title":null,"scale":{"domain":[1143.3,1866.3],"nice":false,"zero":false}},"text":{"field":"t"}}},
{"data":{"name":"header"},"mark":{"type":"text","align":"left","baseline":"middle","font":"Liberation Sans","fontSize":9.5,"color":"black"},
 "encoding":{"x":{"datum":0.4,"type":"quantitative","title":null,"scale":{"domain":[-0.875,468.125],"nice":false,"zero":false}},
  "y":{"datum":1859.6,"type":"quantitative","title":null,"scale":{"domain":[1143.3,1866.3],"nice":false,"zero":false}},"text":{"field":"t"}}},
{"data":{"name":"boxes"},"mark":{"type":"bar","size":11,"color":"black"},
 "encoding":{"x":{"datum":468.375,"type":"quantitative","title":null,"scale":{"domain":[-0.875,468.125],"nice":false,"zero":false}},"x2":{"datum":477.6},
  "y":{"field":"p","type":"quantitative","title":null,"scale":{"domain":[1143.3,1866.3],"nice":false,"zero":false}}}},
{"data":{"name":"boxes"},"mark":{"type":"text","align":"left","baseline":"middle","font":"Liberation Sans","fontSize":10,"color":"white"},
 "encoding":{"x":{"datum":469.0,"type":"quantitative","title":null,"scale":{"domain":[-0.875,468.125],"nice":false,"zero":false}},
  "y":{"field":"p","type":"quantitative","title":null,"scale":{"domain":[1143.3,1866.3],"nice":false,"zero":false}},"text":{"field":"p","type":"quantitative","format":".1f"}}}
]
}
